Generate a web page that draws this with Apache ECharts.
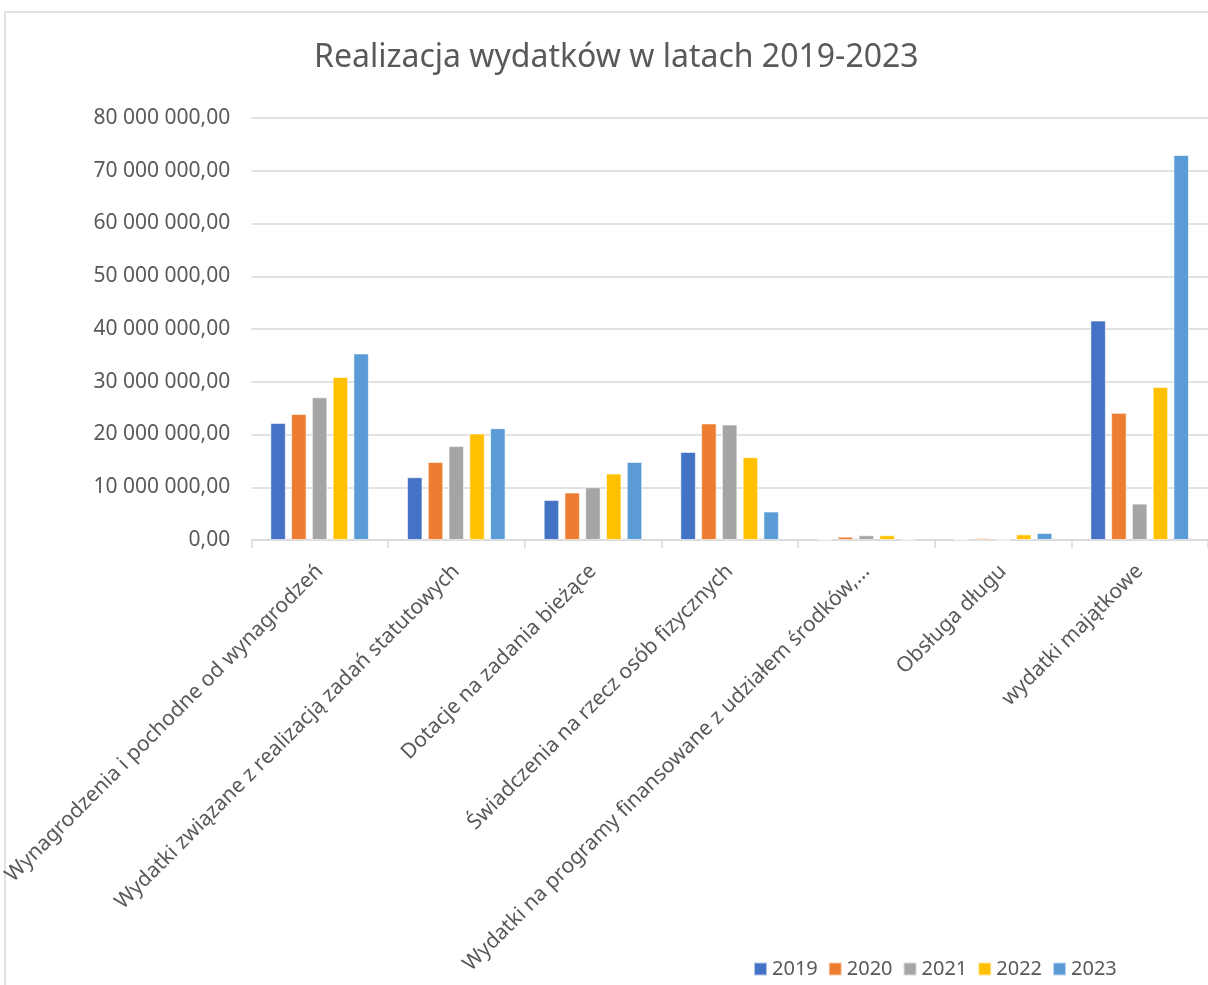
<!DOCTYPE html>
<html><head><meta charset="utf-8">
<script src="https://cdn.jsdelivr.net/npm/echarts@6/dist/echarts.min.js"></script>
<style>html,body{margin:0;padding:0;background:#fff}#c{width:1208px;height:985px}</style>
</head><body><div id="c"></div>
<script>
const categories = [
  "Wynagrodzenia i pochodne od wynagrodzeń",
  "Wydatki związane z realizacją zadań statutowych",
  "Dotacje na zadania bieżące",
  "Świadczenia na rzecz osób fizycznych",
  "Wydatki na programy finansowane z udziałem środków,...",
  "Obsługa długu",
  "wydatki majątkowe"
];
const years = ["2019","2020","2021","2022","2023"];
const colors = ["#4472C4","#ED7D31","#A5A5A5","#FFC000","#5B9BD5"];
const v2019 = [22200000, 11900000, 7600000, 16700000, 100000, 100000, 41600000];
const v2020 = [23900000, 14800000, 9000000, 22100000, 630000, 380000, 24100000];
const v2021 = [27050000, 17800000, 10000000, 21900000, 900000, 50000, 6900000];
const v2022 = [30900000, 20200000, 12600000, 15700000, 900000, 1070000, 29000000];
const v2023 = [35350000, 21200000, 14800000, 5400000, 100000, 1330000, 73000000];
const values = [v2019, v2020, v2021, v2022, v2023];

function fmt(v){
  const s = Math.round(v).toString().replace(/\B(?=(\d{3})+(?!\d))/g, ' ');
  return s + ',00';
}
const font = 'Noto Sans';
const chart = echarts.init(document.getElementById('c'));
chart.setOption({
  animation:false,
  textStyle:{fontFamily:font},
  graphic:[{type:'rect',shape:{x:5,y:12,width:1220,height:1000},style:{fill:'none',stroke:'#d9d9d9',lineWidth:1.5},silent:true}],
  title:{text:'Realizacja wydatków w latach 2019-2023',left:309,top:37,
    textStyle:{fontFamily:font,fontSize:32,fontWeight:'normal',color:'#595959'}},
  legend:{data:years,left:748,top:954,itemWidth:13,itemHeight:13,itemGap:10,icon:'rect',
    textStyle:{fontFamily:font,fontSize:20,color:'#595959'}},
  grid:{left:245,top:118,height:422,right:0,containLabel:false},
  xAxis:{type:'category',data:categories,
    axisLine:{lineStyle:{color:'#d9d9d9',width:1.5}},
    axisTick:{show:true,length:8,lineStyle:{color:'#d9d9d9',width:1.5}},
    axisLabel:{rotate:45,interval:0,fontSize:21,color:'#595959',margin:28,fontFamily:font}},
  yAxis:{type:'value',min:0,max:80000000,interval:10000000,
    axisLine:{show:false},axisTick:{show:false},
    splitLine:{lineStyle:{color:'#d9d9d9',width:1.5}},
    axisLabel:{formatter:fmt,fontSize:21,color:'#595959',margin:21,fontFamily:font}},
  series: years.map((y,i)=>({name:y,type:'bar',data:values[i],barWidth:15.5,barGap:'34%',
    itemStyle:{color:colors[i],borderColor:'rgba(255,255,255,0.6)',borderWidth:1}}))
});
</script></body></html>
